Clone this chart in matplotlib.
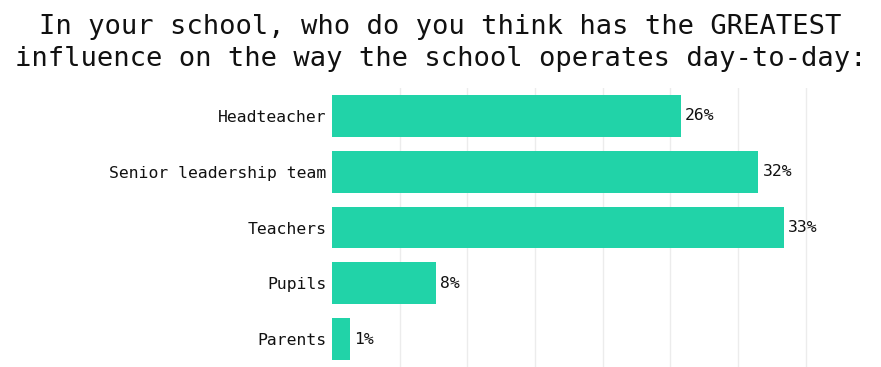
import matplotlib.pyplot as plt

categories = ["Headteacher", "Senior leadership team", "Teachers", "Pupils", "Parents"]
values = [25.8, 31.5, 33.4, 7.7, 1.3]
labels = ["26%", "32%", "33%", "8%", "1%"]

plt.rcParams['font.family'] = ['DejaVu Sans Mono']

fig = plt.figure(figsize=(8.81, 3.67), dpi=100)
ax = fig.add_axes([0.3768, 0.0, 0.5992, 0.76])

ypos = list(range(len(categories)))[::-1]
ax.barh(ypos, values, height=0.75, color='#21d3a8', zorder=2)
for y, v, lab in zip(ypos, values, labels):
    ax.text(v + 0.3, y, lab, va='center', ha='left', fontsize=11.8, color='#111111')

ax.set_yticks(ypos)
ax.set_yticklabels(categories, fontsize=11.8, color='#111111')
ax.set_xticks(range(5, 40, 5))
ax.set_xticklabels([])
ax.set_xlim(0, 39)
ax.set_ylim(-0.5, 4.5)
ax.tick_params(length=0, pad=4)
ax.grid(axis='x', color='#ececec', linewidth=1, zorder=0)
for s in ax.spines.values():
    s.set_visible(False)

fig.text(0.5, 0.962, "In your school, who do you think has the GREATEST\ninfluence on the way the school operates day-to-day:",
         ha='center', va='top', fontsize=19.5, color='#111111', linespacing=1.28)

fig.savefig('out.png', dpi=100)
